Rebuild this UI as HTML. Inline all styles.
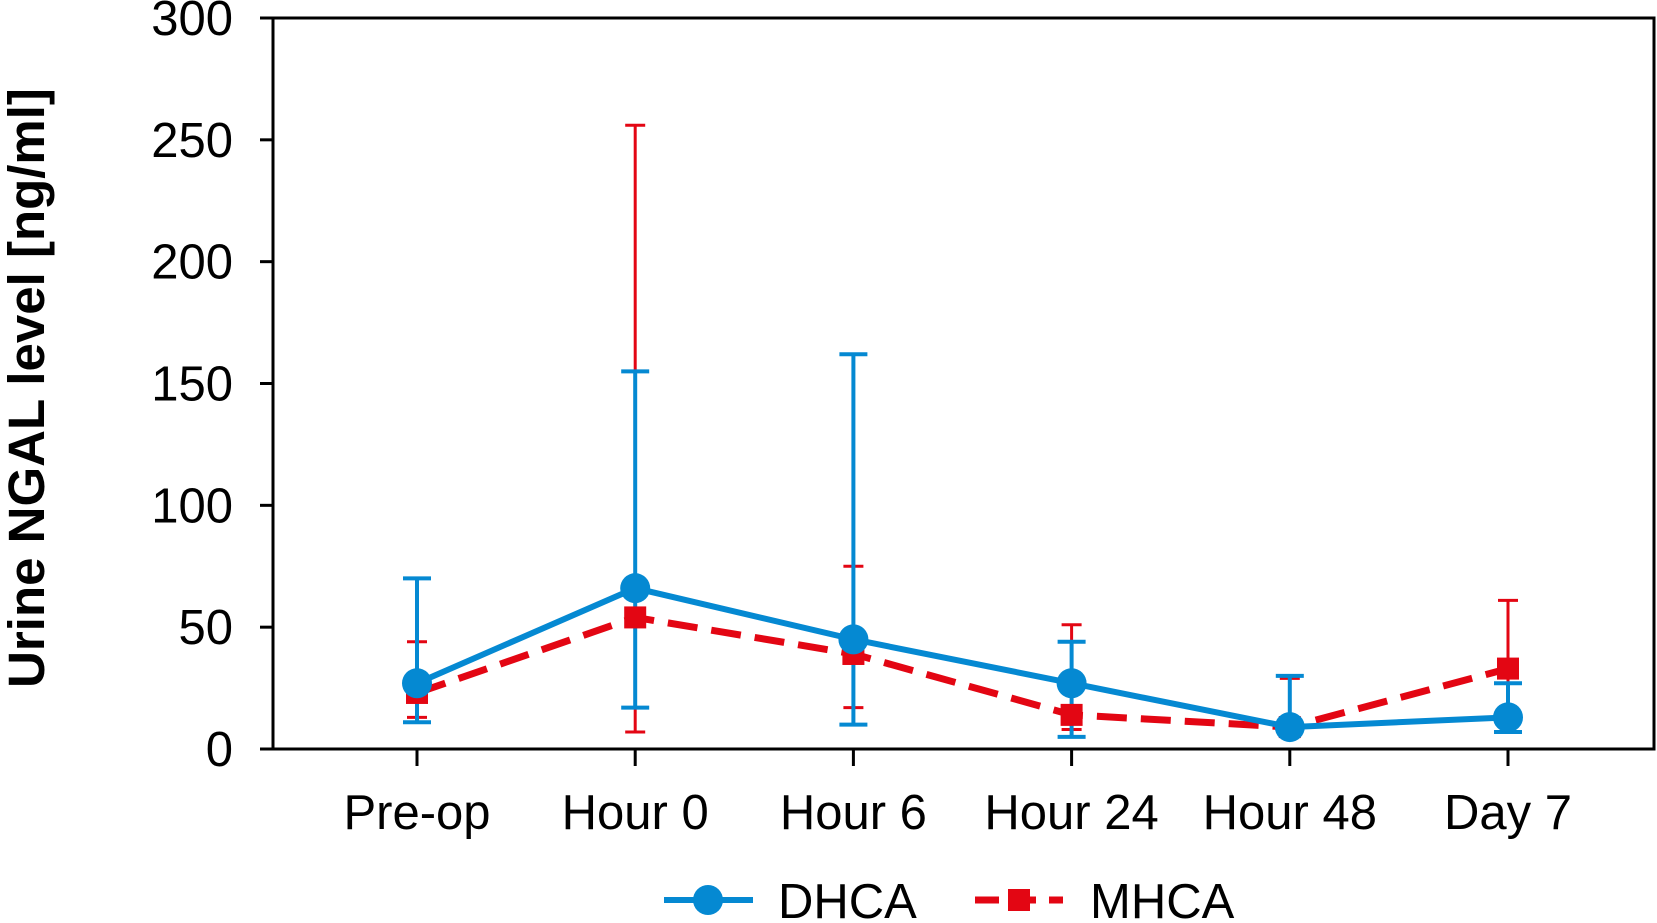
<!DOCTYPE html>
<html><head><meta charset="utf-8"><style>
html,body{margin:0;padding:0;background:#fff;}
svg{display:block;font-family:"Liberation Sans",sans-serif;}
</style></head><body>
<svg id="chart" width="1657" height="923" viewBox="0 0 1657 923" xmlns="http://www.w3.org/2000/svg"></svg>
<script>
const categories=["Pre-op","Hour 0","Hour 6","Hour 24","Hour 48","Day 7"];
const dhcaMean=[27,66,45,27,9,13];
const dhcaLow=[11,17,10,5,9,7];
const dhcaHigh=[70,155,162,44,30,27];
const mhcaMean=[23,54,39,14,9,33];
const mhcaLow=[13,7,17,8,8,14];
const mhcaHigh=[44,256,75,51,29,61];
const yTicks=[0,50,100,150,200,250,300];

const svg=document.getElementById('chart');
const NS='http://www.w3.org/2000/svg';
const L=273,R=1654,T=18,B=749;
const x0=417,dx=218.2;
function xs(i){return x0+i*dx;}
function ys(v){return B-(v/300)*(B-T);}
function mk(tag,attrs,parent){const e=document.createElementNS(NS,tag);for(const k in attrs)e.setAttribute(k,attrs[k]);(parent||svg).appendChild(e);return e;}

const frame=mk('rect',{x:L,y:T,width:R-L,height:B-T,fill:'none',stroke:'#000','stroke-width':3});



yTicks.forEach(v=>{
  const t=mk('line',{x1:L-13,x2:L,y1:ys(v),y2:ys(v),stroke:'#000','stroke-width':3});
  
  
  const lb=mk('text',{x:233,y:ys(v)+17,'text-anchor':'end','font-size':49,fill:'#000'});
  lb.textContent=v;
  
  
});
categories.forEach((c,i)=>{
  const t=mk('line',{x1:xs(i),x2:xs(i),y1:B,y2:B+17,stroke:'#000','stroke-width':3});
  
  
  const lb=mk('text',{x:xs(i),y:829,'text-anchor':'middle','font-size':49,fill:'#000'});
  lb.textContent=c;
  
  
});
const yt=mk('text',{x:0,y:0,transform:'translate(44,388) rotate(-90)','text-anchor':'middle','font-size':51,'font-weight':'bold',fill:'#000'});
yt.textContent='Urine NGAL level [ng/ml]';



const RED='#e30613',BLUE='#0589d2';
function errbars(lo,hi,color,w,cap,name){
  lo.forEach((v,i)=>{
    const g=mk('g',{});
    
    
    mk('line',{x1:xs(i),x2:xs(i),y1:ys(v),y2:ys(hi[i]),stroke:color,'stroke-width':w},g);
    mk('line',{x1:xs(i)-cap,x2:xs(i)+cap,y1:ys(v),y2:ys(v),stroke:color,'stroke-width':w},g);
    mk('line',{x1:xs(i)-cap,x2:xs(i)+cap,y1:ys(hi[i]),y2:ys(hi[i]),stroke:color,'stroke-width':w},g);
  });
}
errbars(mhcaLow,mhcaHigh,RED,3,10,'mhca-error-bar');
errbars(dhcaLow,dhcaHigh,BLUE,4,14,'dhca-error-bar');

const mp=mk('polyline',{points:mhcaMean.map((v,i)=>xs(i)+','+ys(v)).join(' '),fill:'none',stroke:RED,'stroke-width':7,'stroke-dasharray':'30 14'});


mhcaMean.forEach((v,i)=>{
  const r=mk('rect',{x:xs(i)-11,y:ys(v)-11,width:22,height:22,fill:RED});
  
  
});
const dp=mk('polyline',{points:dhcaMean.map((v,i)=>xs(i)+','+ys(v)).join(' '),fill:'none',stroke:BLUE,'stroke-width':6});


dhcaMean.forEach((v,i)=>{
  const c=mk('circle',{cx:xs(i),cy:ys(v),r:15,fill:BLUE});
  
  
});

const lg1=mk('g',{});


mk('line',{x1:664,x2:753,y1:900,y2:900,stroke:BLUE,'stroke-width':6},lg1);
mk('circle',{cx:708,cy:900,r:15,fill:BLUE},lg1);
const t1=mk('text',{x:778,y:918,'font-size':49,fill:'#000'},lg1);t1.textContent='DHCA';
const lg2=mk('g',{});


mk('line',{x1:975,x2:1063,y1:900,y2:900,stroke:RED,'stroke-width':7,'stroke-dasharray':'24 13'},lg2);
mk('rect',{x:1008,y:889,width:22,height:22,fill:RED},lg2);
const t2=mk('text',{x:1090,y:918,'font-size':49,fill:'#000'},lg2);t2.textContent='MHCA';
</script>
</body></html>
